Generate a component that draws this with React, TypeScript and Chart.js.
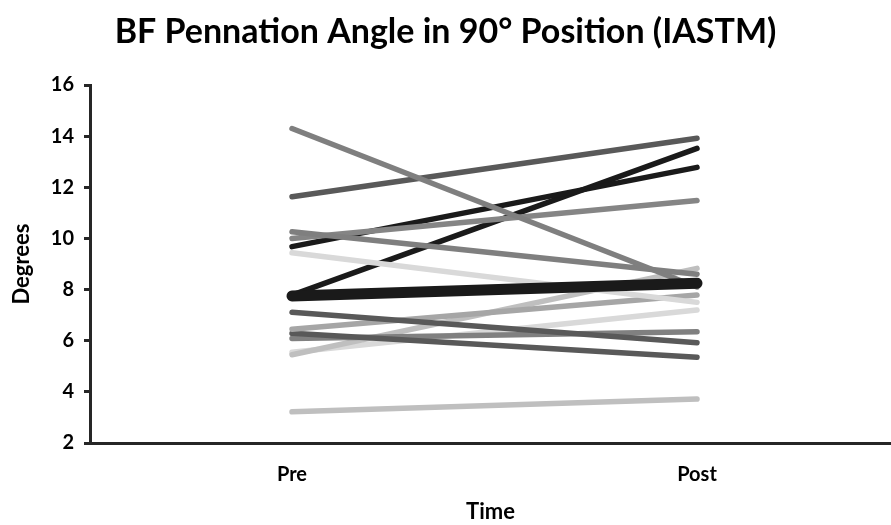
import React, { useEffect, useRef } from "react";
import { Chart, registerables } from "chart.js";

Chart.register(...registerables);

const categories = ["Pre", "Post"];
const yTicks = [2, 4, 6, 8, 10, 12, 14, 16];
const preValues = [14.3, 11.63, 10.26, 10.0, 9.68, 9.44, 7.78, 7.11, 6.45, 6.29, 6.09, 5.45, 5.55, 3.22];
const postValues = [8.1, 13.92, 8.6, 11.48, 12.78, 7.5, 13.52, 5.92, 7.79, 5.35, 6.35, 8.83, 7.2, 3.72];
const meanValues = [7.75, 8.25];
const lineColors = [
  "#7f7f7f", "#595959", "#7f7f7f", "#858585", "#1a1a1a", "#d9d9d9", "#1a1a1a",
  "#595959", "#a6a6a6", "#595959", "#808080", "#bfbfbf", "#d9d9d9", "#bfbfbf",
];

const FONT = "Lato, 'Open Sans', sans-serif";
const AXIS = "#262626";

export default function App() {
  const ref = useRef<HTMLCanvasElement | null>(null);

  useEffect(() => {
    if (!ref.current) return;
    const datasets: any[] = [
      {
        label: "Mean",
        data: meanValues.map((y, i) => ({ x: i, y })),
        borderColor: "#1a1a1a",
        borderWidth: 11,
        borderCapStyle: "round",
        pointRadius: 0,
        order: 0,
      },
      ...preValues.map((p, i) => ({
        label: "S" + (i + 1),
        data: [
          { x: 0, y: p },
          { x: 1, y: postValues[i] },
        ],
        borderColor: lineColors[i],
        borderWidth: 5.5,
        borderCapStyle: "round",
        pointRadius: 0,
        order: 1 + i,
      })),
    ];

    const chart = new Chart(ref.current, {
      type: "line",
      data: { datasets },
      options: {
        animation: false,
        responsive: false,
        maintainAspectRatio: false,
        layout: { padding: 0 },
        plugins: {
          legend: { display: false },
          tooltip: { enabled: false },
          title: {
            display: true,
            text: "BF Pennation Angle in 90° Position (IASTM)",
            color: "#000",
            font: { family: FONT, size: 34, weight: "bold" },
            padding: { top: 12, bottom: 32.2 },
          },
        },
        scales: {
          x: {
            type: "linear",
            min: -0.4988,
            max: 1.479,
            afterBuildTicks: (scale: any) => {
              scale.ticks = categories.map((_, i) => ({ value: i }));
            },
            ticks: {
              callback: (v: any) => categories[v] ?? "",
              color: "#000",
              font: { family: FONT, size: 20, weight: "bold" },
              padding: 20,
              maxRotation: 0,
            },
            grid: { display: false, drawTicks: false, tickLength: 0 },
            border: { display: true, color: AXIS, width: 3 },
            title: {
              display: true,
              text: "Time",
              color: "#000",
              font: { family: FONT, size: 22, weight: "bold" },
              padding: { top: 8, bottom: 0 },
            },
            afterFit: (scale: any) => {
              scale.height = 82;
            },
          },
          y: {
            min: 2,
            max: 16,
            afterBuildTicks: (scale: any) => {
              scale.ticks = yTicks.map((v) => ({ value: v }));
            },
            ticks: {
              color: "#000",
              font: { family: FONT, size: 20, weight: "bold" },
              padding: 10,
            },
            grid: {
              display: true,
              drawOnChartArea: false,
              drawTicks: true,
              tickLength: 6,
              color: AXIS,
              lineWidth: 3,
            },
            border: { display: true, color: AXIS, width: 3 },
            title: {
              display: true,
              text: "Degrees",
              color: "#000",
              font: { family: FONT, size: 22, weight: "bold" },
              padding: { top: 9, bottom: 0 },
            },
            afterFit: (scale: any) => {
              scale.width = 90;
            },
          },
        },
      } as any,
    });
    return () => chart.destroy();
  }, []);

  return (
    <div style={{ position: "fixed", left: 0, top: 0, width: 891, height: 525, background: "#fff" }}>
      <canvas ref={ref} width={891} height={525} style={{ width: 891, height: 525, display: "block" }} />
    </div>
  );
}
